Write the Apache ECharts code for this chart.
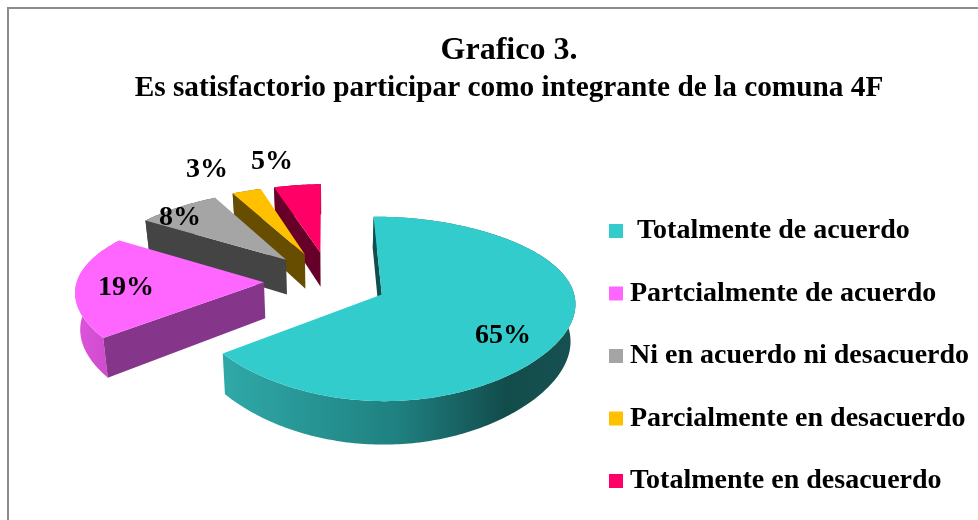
<!DOCTYPE html>
<html>
<head>
<meta charset="utf-8">
<style>html,body{margin:0;padding:0;background:#fff}#chart{width:978px;height:520px}</style>
<script src="https://cdn.jsdelivr.net/npm/echarts@6/dist/echarts.min.js"></script>
</head>
<body>
<div id="chart"></div>
<script>
const categories = [' Totalmente de acuerdo', 'Partcialmente de acuerdo', 'Ni en acuerdo ni desacuerdo', 'Parcialmente en desacuerdo', 'Totalmente en desacuerdo'];
const values = [65, 19, 8, 3, 5];

const topColors = ['#33CCCC', '#FF66FF', '#A5A5A5', '#FFC000', '#FF0066'];
const cutColors = ['#134E4E', '#85368A', '#444444', '#664D00', '#660029'];
const labelAt = [[503, 336], [126, 288], [180, 218], [207, 170], [272, 162]];
const FONT = '"Liberation Serif", "Times New Roman", serif';

// hand rolled tilted pie, echarts has no 3d pie without gl
const view = { cx: 331, cy: 281, depth: 36, tilt: 0.455, dy: 1250 };
const radii = [190, 187, 190, 190, 190];
const explode = [56, 67, 67, 67, 67];
const nudgeY = [2, 0, 0, 0, 0];
const startDeg = -0.5;

function project(X, Y, z, nudge) {
  const sx = 1 - 5.5e-4 * Y - 1.1e-6 * Y * Y;
  const sy = 1 / (1 + Y / view.dy);
  return [
    view.cx + X * sx * (1 - z * 0.02),
    view.cy + nudge - Y * view.tilt * sy + z * view.depth * sy
  ];
}

function slicePaths(i) {
  const total = values.reduce((a, b) => a + b, 0);
  const before = values.slice(0, i).reduce((a, b) => a + b, 0);
  const a0 = startDeg + before / total * 360;
  const a1 = a0 + values[i] / total * 360;
  const mid = (a0 + a1) / 2 * Math.PI / 180;
  const ox = explode[i] * Math.sin(mid);
  const oy = explode[i] * Math.cos(mid);
  const rim = (deg, z) => {
    const t = deg * Math.PI / 180;
    return project(ox + radii[i] * Math.sin(t), oy + radii[i] * Math.cos(t), z, nudgeY[i]);
  };
  const steps = Math.max(8, Math.round(a1 - a0));
  const arcTop = [];
  const arcBottom = [];
  for (let s = 0; s <= steps; s++) {
    const d = a0 + (a1 - a0) * s / steps;
    arcTop.push(rim(d, 0));
    arcBottom.push(rim(d, 1));
  }
  const tipTop = project(ox, oy, 0, nudgeY[i]);
  const tipBottom = project(ox, oy, 1, nudgeY[i]);
  return {
    top: [tipTop].concat(arcTop),
    cutStart: [tipTop, arcTop[0], arcBottom[0], tipBottom],
    rim: arcTop.concat(arcBottom.slice().reverse())
  };
}

const rimFill = [
  new echarts.graphic.LinearGradient(0, 0, 1, 0, [
    { offset: 0, color: '#2FA9A8' }, { offset: 0.5, color: '#1F8080' }, { offset: 0.8, color: '#124D4C' }, { offset: 1, color: '#175050' }
  ]),
  new echarts.graphic.LinearGradient(0, 0, 1, 0, [
    { offset: 0, color: '#DD55DD' }, { offset: 1, color: '#C846C8' }
  ]),
  '#444444', '#664D00', '#660029'
];

const series = categories.map((name, i) => ({
  name: name,
  type: 'custom',
  coordinateSystem: 'none',
  z: 10 - i,
  silent: true,
  itemStyle: { color: topColors[i] },
  data: [values[i]],
  renderItem: (params, api) => {
    const p = slicePaths(i);
    const poly = (points, fill) => ({ type: 'polygon', shape: { points: points }, style: { fill: fill } });
    return {
      type: 'group',
      children: [
        poly(p.rim, rimFill[i]),
        poly(p.cutStart, cutColors[i]),
        poly(p.top, topColors[i]),
        {
          type: 'text',
          x: labelAt[i][0],
          y: labelAt[i][1],
          z2: 100,
          style: {
            text: api.value(0) + '%',
            fill: '#000',
            font: 'bold 28px ' + FONT,
            align: 'center',
            verticalAlign: 'middle'
          }
        }
      ]
    };
  }
}));

const chart = echarts.init(document.getElementById('chart'), null, { renderer: 'canvas' });
chart.setOption({
  animation: false,
  backgroundColor: '#fff',
  title: [
    { text: 'Grafico 3.', left: 504, top: 30, textAlign: 'center', textStyle: { fontFamily: FONT, fontSize: 32, fontWeight: 'bold', color: '#000' } },
    { text: 'Es satisfactorio participar como integrante de la comuna 4F', left: 504, top: 69, textAlign: 'center', textStyle: { fontFamily: FONT, fontSize: 29.3, fontWeight: 'bold', color: '#000' } }
  ],
  legend: {
    orient: 'vertical',
    left: 604,
    top: 212,
    itemWidth: 14,
    itemHeight: 14,
    itemGap: 34.5,
    icon: 'rect',
    data: categories,
    selectedMode: false,
    textStyle: { fontFamily: FONT, fontSize: 28, fontWeight: 'bold', color: '#000', padding: [0, 0, 0, 2] }
  },
  graphic: [{
    type: 'rect',
    silent: true,
    shape: { x: 8, y: 8, width: 980, height: 530 },
    style: { fill: 'none', stroke: '#8C8C8C', lineWidth: 2 }
  }],
  series: series
});
</script>
</body>
</html>
